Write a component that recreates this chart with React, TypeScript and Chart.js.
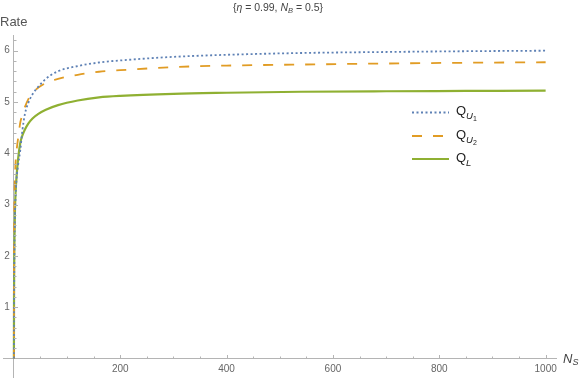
import React, { useEffect, useRef } from 'react';
import { Chart, registerables } from 'chart.js';

Chart.register(...registerables);

// ---- data ----
const NS = [0, 0.25, 0.5, 1, 2, 3, 5, 8, 12, 16, 21, 27, 35, 46, 60, 83, 120, 160, 200, 300, 400, 540, 700, 850, 1000];
const QU1 = [0, 1.0, 1.5, 2.1, 2.8, 3.1, 3.5, 3.78, 4.06, 4.45, 4.78, 4.98, 5.15, 5.3, 5.45, 5.6, 5.7, 5.77, 5.81, 5.88, 5.92, 5.955, 5.975, 5.99, 6.0];
const QU2 = [0, 1.6, 2.5, 3.1, 3.55, 3.8, 4.05, 4.3, 4.6, 4.75, 4.91, 5.05, 5.17, 5.28, 5.37, 5.45, 5.53, 5.59, 5.62, 5.68, 5.71, 5.73, 5.75, 5.765, 5.775];
const QL = [0, 1.2, 1.7, 2.3, 2.9, 3.2, 3.55, 3.9, 4.2, 4.35, 4.47, 4.58, 4.68, 4.77, 4.85, 4.94, 5.03, 5.09, 5.12, 5.16, 5.18, 5.2, 5.21, 5.215, 5.22];
const X_TICKS = [200, 400, 600, 800, 1000];
const Y_TICKS = [1, 2, 3, 4, 5, 6];
const X_MINOR_STEP = 50;
const Y_MINOR_STEP = 0.2;

const FONT = '"Liberation Sans", Arial, sans-serif';
const AXIS_COLOR = '#b4b4b4';
const TICK_LABEL = '#666';
const BLUE = '#5E81B5';
const ORANGE = '#E19C24';
const GREEN = '#8FB032';

type Part = { t: string; size: number; italic?: boolean; dy?: number };

function richWidth(ctx: CanvasRenderingContext2D, parts: Part[]) {
  let w = 0;
  for (const p of parts) {
    ctx.font = `${p.italic ? 'italic ' : ''}${p.size}px ${FONT}`;
    w += ctx.measureText(p.t).width;
  }
  return w;
}

function drawRich(ctx: CanvasRenderingContext2D, x: number, y: number, parts: Part[], color: string) {
  ctx.save();
  ctx.fillStyle = color;
  ctx.textBaseline = 'middle';
  ctx.textAlign = 'left';
  let cx = x;
  for (const p of parts) {
    ctx.font = `${p.italic ? 'italic ' : ''}${p.size}px ${FONT}`;
    ctx.fillText(p.t, cx, y + (p.dy || 0));
    cx += ctx.measureText(p.t).width;
  }
  ctx.restore();
}

const decorPlugin = {
  id: 'mmaDecor',
  afterDraw(chart: any) {
    const ctx: CanvasRenderingContext2D = chart.ctx;
    const xs = chart.scales.x;
    const ys = chart.scales.y;
    const y0 = ys.getPixelForValue(0);
    const x0 = xs.getPixelForValue(0);
    ctx.save();
    ctx.strokeStyle = AXIS_COLOR;
    ctx.lineWidth = 1;
    ctx.beginPath();
    for (let v = X_MINOR_STEP; v <= xs.max; v += X_MINOR_STEP) {
      const px = Math.round(xs.getPixelForValue(v)) + 0.5;
      const len = X_TICKS.includes(v) ? 4 : 2.5;
      ctx.moveTo(px, Math.round(y0));
      ctx.lineTo(px, Math.round(y0) - len);
    }
    for (let i = 1; i * Y_MINOR_STEP <= ys.max; i++) {
      const v = i * Y_MINOR_STEP;
      const py = Math.round(ys.getPixelForValue(v)) + 0.5;
      const major = Math.abs(v - Math.round(v)) < 1e-6;
      const len = major ? 4 : 2.5;
      ctx.moveTo(Math.round(x0), py);
      ctx.lineTo(Math.round(x0) + len, py);
    }
    ctx.stroke();

    // y tick labels
    ctx.fillStyle = TICK_LABEL;
    ctx.font = `10px ${FONT}`;
    ctx.textAlign = 'right';
    ctx.textBaseline = 'middle';
    for (const v of Y_TICKS) {
      ctx.fillText(String(v), x0 - 4, ys.getPixelForValue(v));
    }
    ctx.restore();

    // "Rate" axis label
    drawRich(ctx, 0, 22, [{ t: 'Rate', size: 13 }], '#555');
    // N_S axis label
    drawRich(ctx, 563, 359, [
      { t: 'N', size: 13, italic: true },
      { t: 'S', size: 9, italic: true, dy: 3 },
    ], '#444');

    // title
    const title: Part[] = [
      { t: '{', size: 10.5 },
      { t: 'η', size: 10.5, italic: true },
      { t: ' = 0.99, ', size: 10.5 },
      { t: 'N', size: 10.5, italic: true },
      { t: 'B', size: 7.5, italic: true, dy: 2.5 },
      { t: ' = 0.5}', size: 10.5 },
    ];
    const tw = richWidth(ctx, title);
    drawRich(ctx, 278 - tw / 2, 8, title, '#444');

    // legend
    const items = [
      { color: BLUE, dash: [2, 2.5], width: 1.8, parts: [
        { t: 'Q', size: 13 }, { t: 'U', size: 9.5, italic: true, dy: 5 }, { t: '1', size: 7, dy: 8 }] as Part[] },
      { color: ORANGE, dash: [10, 11], width: 1.8, parts: [
        { t: 'Q', size: 13 }, { t: 'U', size: 9.5, italic: true, dy: 5 }, { t: '2', size: 7, dy: 8 }] as Part[] },
      { color: GREEN, dash: [], width: 2.2, parts: [
        { t: 'Q', size: 13 }, { t: 'L', size: 9.5, italic: true, dy: 5 }] as Part[] },
    ];
    const ly = [112.5, 136, 159];
    items.forEach((it, i) => {
      ctx.save();
      ctx.strokeStyle = it.color;
      ctx.lineWidth = it.width;
      ctx.setLineDash(it.dash);
      ctx.beginPath();
      ctx.moveTo(412, ly[i]);
      ctx.lineTo(449, ly[i]);
      ctx.stroke();
      ctx.restore();
      drawRich(ctx, 456, ly[i] - 1, it.parts, '#222');
    });
  },
};

export default function App() {
  const ref = useRef<HTMLCanvasElement | null>(null);
  useEffect(() => {
    document.body.style.margin = '0';
    const canvas = ref.current;
    if (!canvas) return;
    const mk = (ys: number[]) => NS.map((x, i) => ({ x, y: ys[i] }));
    const chart = new Chart(canvas, {
      type: 'line',
      data: {
        datasets: [
          { label: 'Q_U1', data: mk(QU1), borderColor: BLUE, borderWidth: 1.8, borderDash: [2, 2.5], pointRadius: 0, cubicInterpolationMode: 'monotone', fill: false },
          { label: 'Q_U2', data: mk(QU2), borderColor: ORANGE, borderWidth: 1.8, borderDash: [10, 11], pointRadius: 0, cubicInterpolationMode: 'monotone', fill: false },
          { label: 'Q_L', data: mk(QL), borderColor: GREEN, borderWidth: 2.2, pointRadius: 0, cubicInterpolationMode: 'monotone', fill: false },
        ],
      },
      options: {
        animation: false,
        responsive: false,
        devicePixelRatio: 1,
        layout: { padding: { left: 3, right: 25, top: 35, bottom: 0 } },
        plugins: { legend: { display: false }, title: { display: false }, tooltip: { enabled: false } },
        scales: {
          x: {
            type: 'linear',
            position: { y: 0 } as any,
            min: -20.5,
            max: 1019.5,
            afterBuildTicks: (s: any) => { s.ticks = X_TICKS.map((v) => ({ value: v })); },
            grid: { display: false, drawTicks: false },
            border: { display: true, color: AXIS_COLOR, width: 1 },
            ticks: { color: TICK_LABEL, font: { family: FONT, size: 10 }, padding: 5, maxRotation: 0, autoSkip: false, callback: (v: any) => String(v) },
          },
          y: {
            type: 'linear',
            position: { x: 0 } as any,
            min: -0.38,
            max: 6.306,
            afterBuildTicks: (s: any) => { s.ticks = Y_TICKS.map((v) => ({ value: v })); },
            grid: { display: false, drawTicks: false },
            border: { display: true, color: AXIS_COLOR, width: 1 },
            ticks: { display: false },
          },
        },
      },
      plugins: [decorPlugin],
    } as any);
    return () => chart.destroy();
  }, []);
  return <canvas ref={ref} width={581} height={378} style={{ display: 'block' }} />;
}
